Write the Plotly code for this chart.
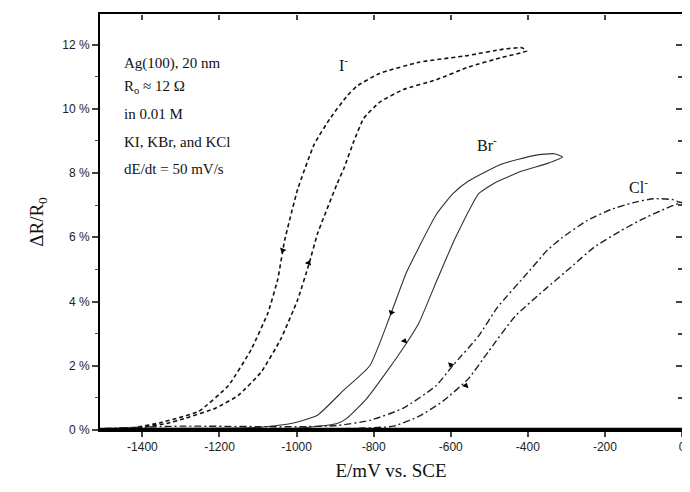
import plotly.graph_objects as go

# ---- data (ΔR/R0 in %, E in mV vs SCE) ----
i_x = [-1500, -1400, -1338, -1287, -1210, -1151, -1092, -1041, -997, -967, -946, -895, -877, -851, -826, -785, -723, -638, -554, -467, -403,
       -415, -467, -554, -682, -785, -844, -869, -913, -954, -997, -1031, -1049, -1074, -1118, -1177, -1254, -1356, -1420, -1500]
i_y = [0.02, 0.08, 0.2, 0.37, 0.68, 1.08, 1.8, 2.83, 4.06, 5.2, 6.1, 7.66, 8.15, 9.0, 9.7, 10.2, 10.6, 10.9, 11.3, 11.6, 11.8,
       11.9, 11.85, 11.66, 11.45, 11.1, 10.7, 10.4, 9.7, 8.9, 7.5, 5.9, 4.68, 3.66, 2.5, 1.38, 0.58, 0.22, 0.08, 0.03]

br_x = [-1500, -1200, -1000, -895, -869, -818, -767, -715, -682, -638, -595, -579, -554, -528, -485, -415, -349, -310,
        -331, -382, -467, -554, -595, -638, -682, -715, -759, -810, -877, -946, -1015, -1100, -1300, -1500]
br_y = [0.02, 0.03, 0.05, 0.2, 0.37, 0.98, 1.8, 2.7, 3.35, 4.6, 5.8, 6.2, 6.8, 7.35, 7.7, 8.06, 8.3, 8.5,
        8.6, 8.55, 8.28, 7.75, 7.35, 6.7, 5.7, 4.9, 3.5, 2.0, 1.25, 0.46, 0.2, 0.08, 0.05, 0.03]

cl_x = [-1500, -1000, -850, -749, -682, -620, -554, -503, -433, -356, -287, -228, -159, -100, -41, -10, 0,
        -10, -23, -74, -126, -185, -246, -313, -349, -400, -480, -528, -595, -638, -723, -810, -895, -1000, -1300, -1500]
cl_y = [0.02, 0.03, 0.05, 0.12, 0.43, 0.9, 1.6, 2.43, 3.54, 4.37, 5.08, 5.69, 6.2, 6.58, 6.9, 7.05, 7.08,
        7.1, 7.17, 7.2, 7.08, 6.86, 6.52, 5.97, 5.6, 4.9, 3.8, 2.92, 2.0, 1.38, 0.68, 0.3, 0.14, 0.1, 0.12, 0.05]

# sweep-direction arrows
arrow_up_x = [-969, -720, -561]
arrow_up_y = [5.2, 2.77, 1.38]
arrow_dn_x = [-1036, -754, -600]
arrow_dn_y = [5.6, 3.66, 2.03]

x_ticks = [-1400, -1200, -1000, -800, -600, -400, -200, 0]
x_tick_text = ["-1400", "-1200", "-1000", "-800", "-600", "-400", "-200", "0"]
y_ticks = [0, 2, 4, 6, 8, 10, 12]
y_tick_text = ["0 %", "2 %", "4 %", "6 %", "8 %", "10 %", "12 %"]

info_lines = ["Ag(100), 20 nm", "R<sub>o</sub> ≈ 12 Ω", "in 0.01 M", "KI, KBr, and KCl", "dE/dt = 50 mV/s"]
ion_labels = ["I<sup>-</sup>", "Br<sup>-</sup>", "Cl<sup>-</sup>"]
ion_x = [-877, -505, -113]
ion_y = [11.4, 8.9, 7.6]

X_RANGE = [-1510, 0]
Y_RANGE = [0, 12.95]

fig = go.Figure()
fig.add_trace(go.Scatter(x=i_x, y=i_y, mode="lines",
                         line=dict(color="#111", width=1.6, dash="4px,3px", shape="spline", smoothing=0.4),
                         showlegend=False))
fig.add_trace(go.Scatter(x=br_x, y=br_y, mode="lines",
                         line=dict(color="#333", width=1.1, shape="spline", smoothing=0.5), showlegend=False))
fig.add_trace(go.Scatter(x=cl_x, y=cl_y, mode="lines",
                         line=dict(color="#222", width=1.4, dash="7px,3px,2px,3px", shape="spline", smoothing=0.5),
                         showlegend=False))
# baseline (thick zero line)
fig.add_trace(go.Scatter(x=X_RANGE, y=[0.03, 0.03], mode="lines",
                         line=dict(color="#000", width=2.5), showlegend=False))
fig.add_trace(go.Scatter(x=arrow_up_x, y=arrow_up_y, mode="markers",
                         marker=dict(symbol="triangle-up", size=6, color="#000", angle=20), showlegend=False))
fig.add_trace(go.Scatter(x=arrow_dn_x, y=arrow_dn_y, mode="markers",
                         marker=dict(symbol="triangle-down", size=6, color="#000", angle=20), showlegend=False))
# invisible trace for mirrored top/right axes
fig.add_trace(go.Scatter(x=X_RANGE, y=Y_RANGE, xaxis="x2", yaxis="y2", mode="markers",
                         marker=dict(opacity=0), showlegend=False, hoverinfo="skip"))

tickfont = dict(family="Liberation Sans, Arial", size=12, color="#222")
serif = "Liberation Serif, Times New Roman"
fig.update_layout(
    width=682, height=474,
    margin=dict(l=92, r=8, t=4, b=50),
    paper_bgcolor="white", plot_bgcolor="white",
    xaxis=dict(range=X_RANGE, tickmode="array", tickvals=x_ticks, ticktext=x_tick_text,
               ticks="outside", ticklen=5, tickwidth=1.5, mirror=True,
               showline=True, linecolor="#000", linewidth=2, showgrid=False, zeroline=False,
               tickfont=tickfont,
               title=dict(text="E/mV vs. SCE", font=dict(family=serif, size=19, color="#111"), standoff=10)),
    yaxis=dict(range=Y_RANGE, tickmode="array", tickvals=y_ticks, ticktext=y_tick_text,
               ticks="outside", ticklen=6, tickwidth=1.5, mirror=True,
               minor=dict(tickmode="linear", dtick=1, tick0=0, ticks="outside", ticklen=3, tickwidth=1.2),
               showline=True, linecolor="#000", linewidth=2, showgrid=False, zeroline=False,
               tickfont=tickfont,
               title=dict(text="ΔR/R<sub>0</sub>", font=dict(family=serif, size=19, color="#111"), standoff=14)),
    xaxis2=dict(range=X_RANGE, overlaying="x", side="top", anchor="free", position=1,
                tickmode="array", tickvals=x_ticks,
                ticks="inside", ticklen=5, tickwidth=1.5, showticklabels=False, showline=False,
                showgrid=False, zeroline=False),
    yaxis2=dict(range=Y_RANGE, overlaying="y", side="right", anchor="free", position=1,
                tickmode="array", tickvals=y_ticks,
                ticks="inside", ticklen=6, tickwidth=1.5,
                minor=dict(tickmode="linear", dtick=1, tick0=0, ticks="inside", ticklen=4),
                showticklabels=False, showline=False,
                showgrid=False, zeroline=False),
)

info_y = [0.881, 0.824, 0.760, 0.693, 0.627]
for txt, yy in zip(info_lines, info_y):
    fig.add_annotation(text=txt, xref="paper", yref="paper", x=0.038, y=yy, xanchor="left", yanchor="middle",
                       showarrow=False, font=dict(family=serif, size=15, color="#111"))
for txt, xx, yy in zip(ion_labels, ion_x, ion_y):
    fig.add_annotation(text=txt, x=xx, y=yy, showarrow=False,
                       font=dict(family=serif, size=16, color="#111"))

fig.write_html("out.html")
